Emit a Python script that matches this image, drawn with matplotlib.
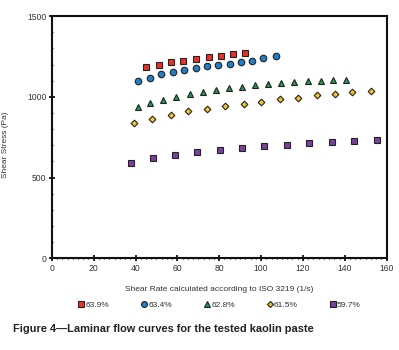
import matplotlib
matplotlib.use("Agg")
import matplotlib.pyplot as plt
from matplotlib.ticker import MultipleLocator

plt.rcParams['font.family'] = ['Liberation Sans', 'DejaVu Sans']

# 63.9%
x_639 = [44.8, 51.0, 56.7, 62.8, 68.8, 74.9, 80.8, 86.7, 92.4]
y_639 = [1186, 1199, 1214, 1224, 1236, 1248, 1255, 1265, 1269]
# 63.4%
x_634 = [41.1, 46.7, 52.1, 57.7, 63.1, 68.7, 74.0, 79.5, 84.9, 90.3, 95.7, 101.0, 106.9]
y_634 = [1096, 1115, 1139, 1152, 1168, 1180, 1189, 1197, 1203, 1217, 1224, 1242, 1253]
# 62.8%
x_628 = [41.0, 47.0, 53.2, 59.4, 65.8, 72.0, 78.4, 84.6, 90.8, 97.0, 103.4, 109.6,
         115.8, 122.2, 128.4, 134.6, 140.8]
y_628 = [939, 963, 980, 999, 1019, 1028, 1042, 1053, 1063, 1073, 1079, 1084,
         1092, 1098, 1098, 1104, 1104]
# 61.5%
x_615 = [39.2, 47.9, 56.7, 65.2, 74.1, 82.7, 91.6, 100.1, 108.9, 117.7, 126.5, 135.1, 143.5, 152.3]
y_615 = [836, 862, 887, 910, 927, 944, 958, 970, 985, 995, 1010, 1018, 1028, 1038]
# 59.7%
x_597 = [37.6, 48.1, 58.8, 69.6, 80.3, 91.1, 101.5, 112.5, 122.9, 134.0, 144.4, 155.2]
y_597 = [592, 619, 639, 656, 670, 681, 695, 703, 712, 718, 726, 731]

series = [
    (x_639, y_639, "63.9%", "s", "#e8312a", 4.5),
    (x_634, y_634, "63.4%", "o", "#1f7fc9", 4.7),
    (x_628, y_628, "62.8%", "^", "#1f9a4a", 4.8),
    (x_615, y_615, "61.5%", "D", "#f2c62c", 3.4),
    (x_597, y_597, "59.7%", "s", "#7b3f9e", 4.3),
]

fig = plt.figure(figsize=(3.99, 3.5), dpi=100)
ax = fig.add_axes([0.130, 0.262, 0.839, 0.692])

for x, y, lab, m, c, ms in series:
    ax.plot(x, y, linestyle="none", marker=m, color=c, markersize=ms,
            markeredgecolor="#222222", markeredgewidth=0.8, label=lab)

ax.set_xlim(0, 160)
ax.set_ylim(0, 1500)
ax.xaxis.set_major_locator(MultipleLocator(20))
ax.xaxis.set_minor_locator(MultipleLocator(2.5))
ax.yaxis.set_major_locator(MultipleLocator(500))
ax.yaxis.set_minor_locator(MultipleLocator(100))
ax.tick_params(which="major", direction="inout", length=4, width=1.2,
               labelsize=6.2, labelcolor="#333333", pad=2)
ax.tick_params(which="minor", direction="inout", length=2, width=0.8)
ax.tick_params(top=False, right=False)
for sp in ax.spines.values():
    sp.set_linewidth(1.5)
    sp.set_color("#111111")

ax.set_ylabel("Shear Stress (Pa)", fontsize=6, color="#333333")
ax.yaxis.set_label_coords(-0.128, 0.47)
ax.set_xlabel("Shear Rate calculated according to ISO 3219 (1/s)", fontsize=6,
              color="#333333")
ax.xaxis.set_label_coords(0.5, -0.114)

fig.legend(loc="center", bbox_to_anchor=(0.55, 0.129), ncol=5, frameon=False,
           fontsize=6, handlelength=0.8, handletextpad=0.1, columnspacing=3.8,
           markerscale=0.9, labelcolor="#333333")

fig.text(0.033, 0.051, "Figure 4\u2014Laminar flow curves for the tested kaolin paste",
         fontsize=7.9, fontweight="bold", color="#222222")

fig.savefig("out.png", dpi=100)
